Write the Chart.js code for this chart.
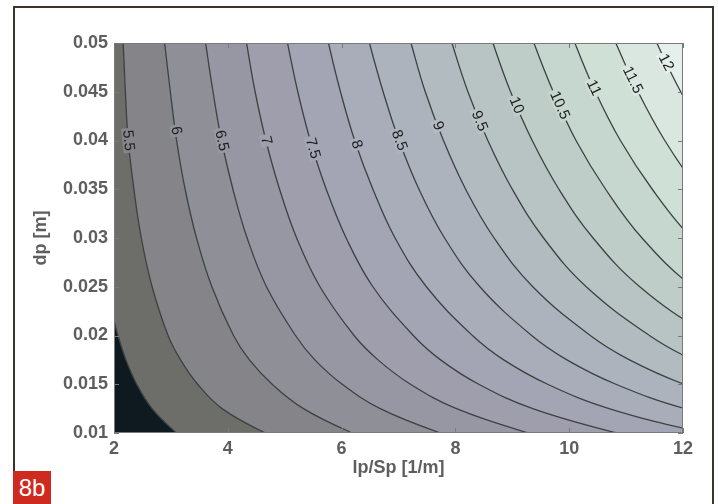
<!DOCTYPE html>
<html>
<head>
<meta charset="utf-8">
<script src="https://cdn.jsdelivr.net/npm/chart.js@4.4.1/dist/chart.umd.min.js"></script>
<style>
  html, body { margin: 0; padding: 0; background: #fff; }
  #wrap { position: relative; width: 718px; height: 504px; overflow: hidden; }
  #frame { position: absolute; left: 13px; top: 6px; width: 697px; height: 520px;
           border: 2px solid #3b3629; pointer-events: none; }
  #tag { position: absolute; left: 13px; top: 471px; width: 38px; height: 33px;
         background: #cf2a1f; color: #fff; font: 24px "Liberation Sans", Arial, sans-serif;
         line-height: 34px; text-align: center; }
  canvas { position: absolute; left: 0; top: 0; }
</style>
</head>
<body>
<div id="wrap">
  <canvas id="grafico" width="718" height="504"></canvas>
  <div id="frame"></div>
  <div id="tag">8b</div>
</div>
<script>
// niveles del contorno y colores de cada banda (color por encima del nivel)
const niveles = [5, 5.5, 6, 6.5, 7, 7.5, 8, 8.5, 9, 9.5, 10, 10.5, 11, 11.5, 12];
const coloresBanda = ['#6d6d69', '#848489', '#8f8f98', '#9797a3', '#9e9eac', '#a4a5b4', '#a9acb9',
  '#adb3bc', '#b2bbbf', '#b8c4c3', '#becdc8', '#c6d7cf', '#cfe0d7', '#d9e7e0', '#e5efeb'];
const colorFondo = '#0e1a20';

const xTicks = [2, 4, 6, 8, 10, 12];
const yTicks = [0.01, 0.015, 0.02, 0.025, 0.03, 0.035, 0.04, 0.045, 0.05];

// curvas: [lp/Sp, dp]
const linea5 = [[1.8, 0.0276], [2, 0.0216], [2.07, 0.02], [2.21, 0.0175], [2.4, 0.015], [2.67, 0.0125], [3.1, 0.01], [3.34, 0.009], [13, 0.005]];
const linea5_5 = [[2.12, 0.053], [2.16, 0.05], [2.2, 0.045], [2.25, 0.04], [2.35, 0.035], [2.48, 0.03], [2.67, 0.025], [2.95, 0.02], [3.17, 0.0175], [3.47, 0.015], [3.9, 0.0125], [4.66, 0.01], [5.1, 0.009], [13, 0.005]];
const linea6 = [[2.83, 0.053], [2.89, 0.05], [2.99, 0.045], [3.1, 0.04], [3.25, 0.035], [3.45, 0.03], [3.72, 0.025], [4.1, 0.02], [4.38, 0.0175], [4.78, 0.015], [5.33, 0.0125], [6.19, 0.01], [6.7, 0.009], [13, 0.005]];
const linea6_5 = [[3.54, 0.053], [3.61, 0.05], [3.74, 0.045], [3.89, 0.04], [4.09, 0.035], [4.34, 0.03], [4.68, 0.025], [5.19, 0.02], [5.53, 0.0175], [6.01, 0.015], [6.68, 0.0125], [7.74, 0.01], [8.36, 0.009], [13, 0.005]];
const linea7 = [[4.25, 0.053], [4.33, 0.05], [4.48, 0.045], [4.67, 0.04], [4.91, 0.035], [5.21, 0.03], [5.62, 0.025], [6.22, 0.02], [6.64, 0.0175], [7.21, 0.015], [8.02, 0.0125], [9.29, 0.01], [10.03, 0.009], [13, 0.006]];
const linea7_5 = [[4.96, 0.053], [5.05, 0.05], [5.23, 0.045], [5.45, 0.04], [5.73, 0.035], [6.08, 0.03], [6.55, 0.025], [7.26, 0.02], [7.74, 0.0175], [8.41, 0.015], [9.36, 0.0125], [10.84, 0.01], [11.71, 0.009], [14, 0.007]];
const linea8 = [[5.67, 0.053], [5.77, 0.05], [5.98, 0.045], [6.23, 0.04], [6.55, 0.035], [6.94, 0.03], [7.49, 0.025], [8.3, 0.02], [8.85, 0.0175], [9.62, 0.015], [10.7, 0.0125], [12.38, 0.01], [13.4, 0.009]];
const linea8_5 = [[6.37, 0.053], [6.49, 0.05], [6.73, 0.045], [7.01, 0.04], [7.36, 0.035], [7.81, 0.03], [8.43, 0.025], [9.34, 0.02], [9.96, 0.0175], [10.82, 0.015], [12.03, 0.0125], [13.93, 0.01]];
const linea9 = [[7.08, 0.053], [7.22, 0.05], [7.47, 0.045], [7.79, 0.04], [8.18, 0.035], [8.68, 0.03], [9.36, 0.025], [10.37, 0.02], [11.06, 0.0175], [12.02, 0.015], [13.37, 0.0125]];
const linea9_5 = [[7.79, 0.053], [7.94, 0.05], [8.22, 0.045], [8.57, 0.04], [9, 0.035], [9.55, 0.03], [10.3, 0.025], [11.41, 0.02], [12.17, 0.0175], [13.22, 0.015]];
const linea10 = [[8.5, 0.053], [8.66, 0.05], [8.97, 0.045], [9.35, 0.04], [9.82, 0.035], [10.42, 0.03], [11.24, 0.025], [12.45, 0.02], [13.27, 0.0175]];
const linea10_5 = [[9.21, 0.053], [9.38, 0.05], [9.72, 0.045], [10.12, 0.04], [10.64, 0.035], [11.28, 0.03], [12.17, 0.025], [13.49, 0.02]];
const linea11 = [[9.92, 0.053], [10.1, 0.05], [10.46, 0.045], [10.9, 0.04], [11.46, 0.035], [12.15, 0.03], [13.11, 0.025]];
const linea11_5 = [[10.62, 0.053], [10.82, 0.05], [11.21, 0.045], [11.68, 0.04], [12.27, 0.035], [13.02, 0.03]];
const linea12 = [[11.33, 0.053], [11.54, 0.05], [11.96, 0.045], [12.46, 0.04], [13.09, 0.035]];

const lineas = [linea5, linea5_5, linea6, linea6_5, linea7, linea7_5, linea8, linea8_5,
  linea9, linea9_5, linea10, linea10_5, linea11, linea11_5, linea12];

// etiquetas del contorno: texto, x, y, angulo (grados)
const etiquetas = [
  ['5.5', 2.25, 0.04, 84], ['6', 3.09, 0.041, 80], ['6.5', 3.89, 0.04, 78], ['7', 4.67, 0.04, 76],
  ['7.5', 5.49, 0.0392, 74], ['8', 6.26, 0.0396, 72], ['8.5', 7.01, 0.04, 70], ['9', 7.69, 0.0415, 69],
  ['9.5', 8.42, 0.042, 68], ['10', 9.07, 0.0436, 67], ['10.5', 9.83, 0.0436, 66], ['11', 10.43, 0.0454, 65],
  ['11.5', 11.11, 0.0462, 64], ['12', 11.7, 0.048, 62]
];

const fuenteEje = { family: '"Liberation Sans", Arial, sans-serif', size: 18, weight: 'bold' };

const decorado = {
  id: 'decorado',
  beforeDatasetsDraw(chart) {
    const { ctx, chartArea: a } = chart;
    ctx.save();
    ctx.fillStyle = colorFondo;
    ctx.fillRect(a.left, a.top, a.width, a.height);
    ctx.restore();
  },
  afterDatasetsDraw(chart) {
    const { ctx, chartArea: a, scales } = chart;
    ctx.save();
    // etiquetas
    ctx.font = '15px "Liberation Sans", Arial, sans-serif';
    ctx.textAlign = 'center';
    ctx.textBaseline = 'middle';
    etiquetas.forEach(([txt, lx, ly, ang]) => {
      const i = niveles.indexOf(parseFloat(txt));
      const px = scales.x.getPixelForValue(lx);
      const py = scales.y.getPixelForValue(ly);
      ctx.save();
      ctx.translate(px, py);
      ctx.rotate(ang * Math.PI / 180);
      const w = ctx.measureText(txt).width;
      ctx.fillStyle = coloresBanda[i];
      ctx.fillRect(-w / 2 - 2, -6, w + 4, 12);
      ctx.fillStyle = '#1e1e1e';
      ctx.fillText(txt, 0, 0);
      ctx.restore();
    });
    // caja y marcas hacia dentro
    ctx.strokeStyle = '#7a7a7a';
    ctx.lineWidth = 1;
    ctx.strokeRect(a.left + 0.5, a.top + 0.5, a.width - 1, a.height - 1);
    ctx.beginPath();
    xTicks.forEach(v => {
      const px = Math.round(scales.x.getPixelForValue(v)) + 0.5;
      ctx.moveTo(px, a.bottom); ctx.lineTo(px, a.bottom - 5);
      ctx.moveTo(px, a.top); ctx.lineTo(px, a.top + 5);
    });
    yTicks.forEach(v => {
      const py = Math.round(scales.y.getPixelForValue(v)) + 0.5;
      ctx.moveTo(a.left, py); ctx.lineTo(a.left + 5, py);
      ctx.moveTo(a.right, py); ctx.lineTo(a.right - 5, py);
    });
    ctx.stroke();
    ctx.restore();
  }
};

const datasets = lineas.map((pts, i) => ({
  data: pts.map(([x, y]) => ({ x, y })),
  borderColor: '#3c4242',
  borderWidth: 1.3,
  backgroundColor: coloresBanda[i],
  fill: 'end',
  tension: 0.4,
  pointRadius: 0,
  order: lineas.length - i
}));

new Chart(document.getElementById('grafico'), {
  type: 'line',
  data: { datasets },
  options: {
    responsive: false,
    animation: false,
    devicePixelRatio: 1,
    layout: { padding: { left: 0, right: 35, top: 43, bottom: 0 } },
    elements: { line: { capBezierPoints: false } },
    plugins: { legend: { display: false }, tooltip: { enabled: false } },
    scales: {
      x: {
        type: 'linear', min: 2, max: 12,
        afterBuildTicks: s => { s.ticks = xTicks.map(v => ({ value: v })); },
        afterFit: s => { s.height = 71; },
        grid: { display: false, drawTicks: false },
        border: { display: false },
        ticks: { font: fuenteEje, color: '#5e5e5e', padding: 5, callback: v => String(v) },
        title: { display: true, text: 'lp/Sp [1/m]', font: fuenteEje, color: '#5e5e5e', padding: { bottom: 25 } }
      },
      y: {
        type: 'linear', min: 0.01, max: 0.05,
        afterBuildTicks: s => { s.ticks = yTicks.map(v => ({ value: v })); },
        afterFit: s => { s.width = 114; },
        grid: { display: false, drawTicks: false },
        border: { display: false },
        ticks: { font: fuenteEje, color: '#5e5e5e', padding: 6, callback: v => String(v) },
        title: { display: true, text: 'dp [m]', font: fuenteEje, color: '#5e5e5e', padding: { top: 30 } }
      }
    }
  },
  plugins: [decorado]
});
</script>
</body>
</html>
